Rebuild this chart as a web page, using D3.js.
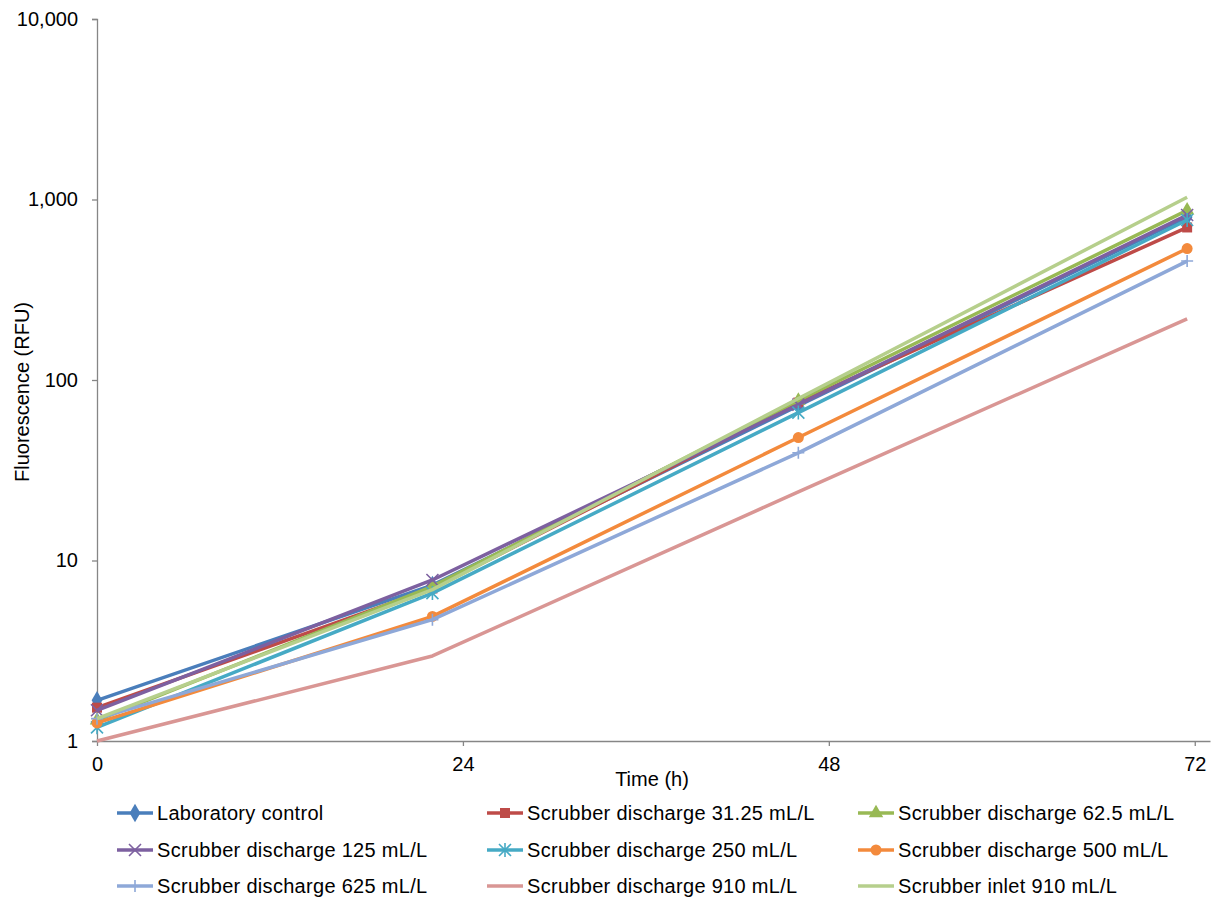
<!DOCTYPE html>
<html>
<head>
<meta charset="utf-8">
<script src="https://cdn.jsdelivr.net/npm/d3@7"></script>
<style>
  html, body { margin: 0; padding: 0; background: #fff; }
  svg text { font-family: "Liberation Sans", Arial, sans-serif; fill: #000; }
</style>
</head>
<body>
<svg id="chart" width="1218" height="903"></svg>
<script>
// Sampling times (h)
const times = [0, 22, 46, 71.5];

// Series names, in legend order
const seriesNames = [
  "Laboratory control",
  "Scrubber discharge 31.25 mL/L",
  "Scrubber discharge 62.5 mL/L",
  "Scrubber discharge 125 mL/L",
  "Scrubber discharge 250 mL/L",
  "Scrubber discharge 500 mL/L",
  "Scrubber discharge 625 mL/L",
  "Scrubber discharge 910 mL/L",
  "Scrubber inlet 910 mL/L"
];

// Fluorescence (RFU) at each sampling time
const labControl   = [1.68, 7.3, 72, 800];
const discharge31  = [1.53, 7.0, 75, 700];
const discharge62  = [1.30, 7.2, 77, 870];
const discharge125 = [1.48, 7.8, 73, 820];
const discharge250 = [1.19, 6.6, 66, 770];
const discharge500 = [1.26, 4.9, 48, 535];
const discharge625 = [1.33, 4.7, 39.5, 456];
const discharge910 = [1.0, 2.96, 24, 218];
const inlet910     = [1.33, 6.9, 79, 1030];

const seriesValues = [labControl, discharge31, discharge62, discharge125,
  discharge250, discharge500, discharge625, discharge910, inlet910];

const xTicks = [0, 24, 48, 72];
const yTicks = [1, 10, 100, 1000, 10000];

const colors = ["#4A7EBB", "#BE4B48", "#98B954", "#7D60A0", "#46AAC5",
  "#F38A3C", "#8EA8D8", "#D99694", "#B6CF8C"];
const markers = ["diamond", "square", "triangle", "x", "star", "circle", "plus", null, null];

const FS = 20;

const svg = d3.select("#chart");
const m = { left: 97, right: 1210, top: 19, bottom: 741 };

const x = d3.scaleLinear().domain([0, 73]).range([m.left, m.right]);
const y = d3.scaleLog().domain([1, 10000]).range([m.bottom, m.top]);

const axisColor = "#868686";

// Y axis
const yAxis = svg.append("g")
  .attr("transform", `translate(${m.left},0)`)
  .call(d3.axisLeft(y).tickValues(yTicks).tickSize(5).tickPadding(14)
    .tickFormat(d3.format(",")));
yAxis.select(".domain").attr("stroke", axisColor).attr("stroke-width", 1.3);
yAxis.selectAll(".tick line").attr("stroke", axisColor).attr("stroke-width", 1.3);
yAxis.selectAll("text").attr("font-size", FS).attr("fill", "#000");

// X axis
const xAxis = svg.append("g")
  .attr("transform", `translate(0,${m.bottom})`)
  .call(d3.axisBottom(x).tickValues(xTicks).tickSize(5).tickPadding(11)
    .tickSizeOuter(0));
xAxis.select(".domain").attr("stroke", axisColor).attr("stroke-width", 1.3);
xAxis.selectAll(".tick line").attr("stroke", axisColor).attr("stroke-width", 1.3);
xAxis.selectAll("text").attr("font-size", FS).attr("fill", "#000");

// Axis titles
svg.append("text")
  .attr("x", 652).attr("y", 786)
  .attr("text-anchor", "middle").attr("font-size", FS)
  .text("Time (h)");
svg.append("text")
  .attr("transform", "translate(29,392) rotate(-90)")
  .attr("text-anchor", "middle").attr("font-size", FS)
  .text("Fluorescence (RFU)");

// Marker drawing
function drawMarker(g, type, color, size) {
  const s = size;
  if (type === "diamond") {
    g.append("path").attr("d", d3.symbol(d3.symbolDiamond, s * s * 1.0)())
      .attr("fill", color);
  } else if (type === "square") {
    g.append("rect").attr("x", -s / 2).attr("y", -s / 2)
      .attr("width", s).attr("height", s).attr("fill", color);
  } else if (type === "triangle") {
    g.append("path").attr("d", d3.symbol(d3.symbolTriangle, s * s * 0.9)())
      .attr("fill", color);
  } else if (type === "circle") {
    g.append("circle").attr("r", s / 2 + 0.5).attr("fill", color);
  } else if (type === "x") {
    const h = s / 2 + 1;
    g.append("path").attr("d", `M${-h},${-h}L${h},${h}M${-h},${h}L${h},${-h}`)
      .attr("stroke", color).attr("stroke-width", 1.6).attr("fill", "none");
  } else if (type === "star") {
    const h = s / 2 + 1;
    g.append("path")
      .attr("d", `M${-h},${-h}L${h},${h}M${-h},${h}L${h},${-h}M0,${-h - 1}L0,${h + 1}`)
      .attr("stroke", color).attr("stroke-width", 1.6).attr("fill", "none");
  } else if (type === "plus") {
    const h = s / 2 + 1;
    g.append("path").attr("d", `M${-h},0L${h},0M0,${-h}L0,${h}`)
      .attr("stroke", color).attr("stroke-width", 1.6).attr("fill", "none");
  }
}

const line = d3.line()
  .x((d, i) => x(times[i]))
  .y(d => y(d));

// Series lines and markers
seriesValues.forEach((vals, si) => {
  const g = svg.append("g").attr("class", "series");
  g.append("path")
    .attr("d", line(vals))
    .attr("fill", "none")
    .attr("stroke", colors[si])
    .attr("stroke-width", 3.5)
    .attr("stroke-linejoin", "round")
    .attr("stroke-linecap", "butt");
  if (markers[si]) {
    vals.forEach((v, i) => {
      const mg = g.append("g").attr("transform", `translate(${x(times[i])},${y(v)})`);
      drawMarker(mg, markers[si], colors[si], 10);
    });
  }
});

// Legend: 3 columns x 3 rows
const legCols = [117, 487, 858];
const legRows = [813, 850, 886];
seriesNames.forEach((name, i) => {
  const cx = legCols[i % 3];
  const cy = legRows[Math.floor(i / 3)];
  const g = svg.append("g").attr("transform", `translate(${cx},${cy})`);
  g.append("line").attr("x1", 0).attr("x2", 36).attr("y1", 0).attr("y2", 0)
    .attr("stroke", colors[i]).attr("stroke-width", 3.5);
  if (markers[i]) {
    const mg = g.append("g").attr("transform", "translate(18,0)");
    drawMarker(mg, markers[i], colors[i], 10);
  }
  g.append("text").attr("x", 40).attr("y", 7).attr("font-size", FS)
    .attr("letter-spacing", 0.3).text(name);
});
</script>
</body>
</html>
